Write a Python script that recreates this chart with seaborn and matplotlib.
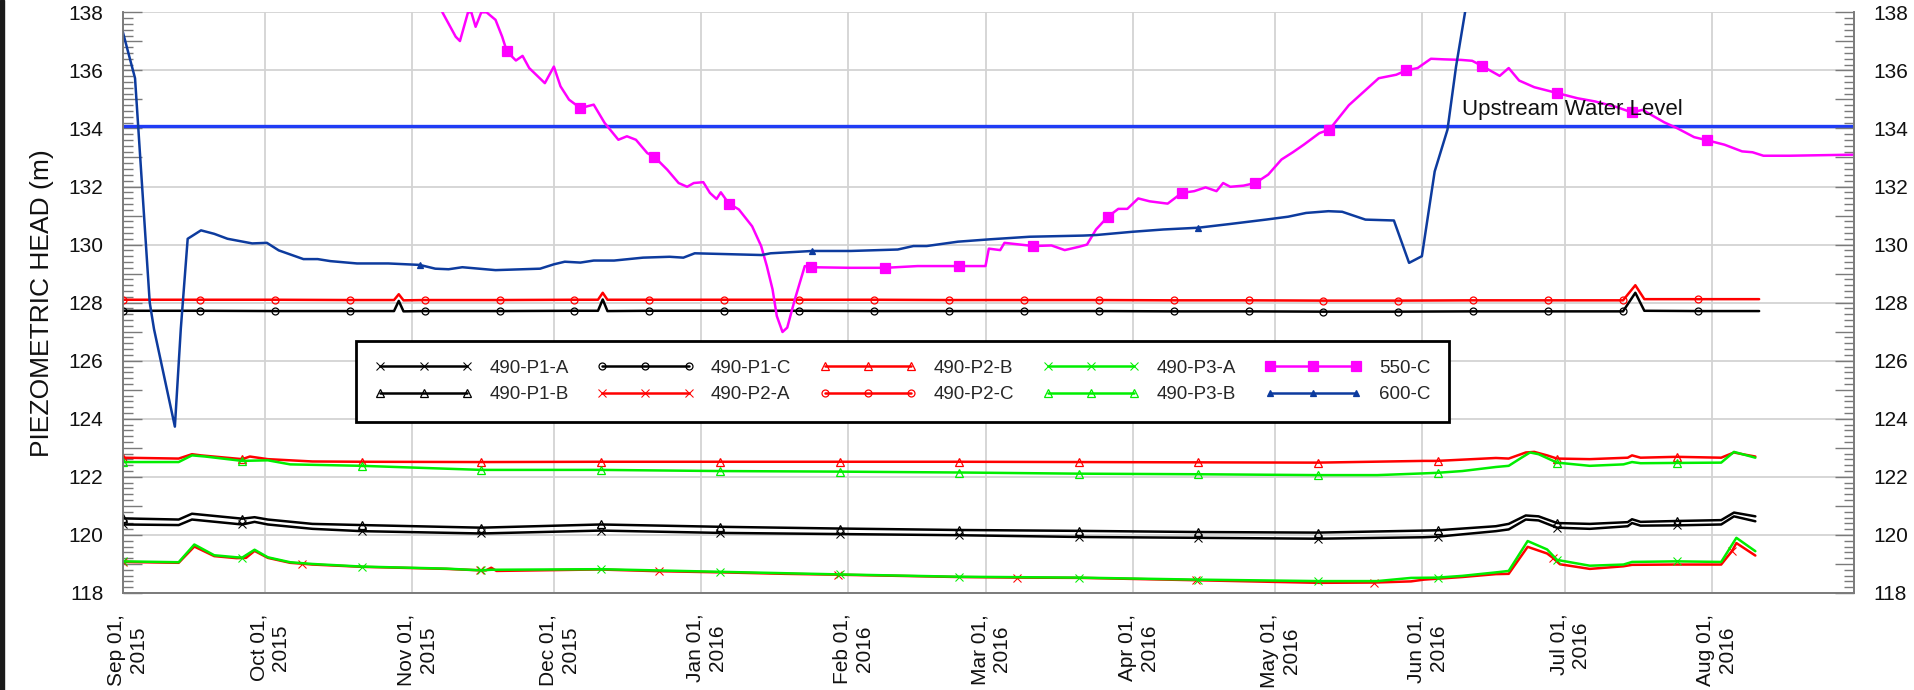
import numpy as np
import pandas as pd
import matplotlib
matplotlib.use('Agg')
import matplotlib.pyplot as plt
import matplotlib.dates as mdates
import matplotlib.ticker as mticker
import matplotlib.transforms as mtransforms
from matplotlib.lines import Line2D
from matplotlib.patches import Rectangle
import seaborn as sns

# ---- data (days after 2015-09-01, piezometric head in m) ----
start = pd.Timestamp('2015-09-01')
end = pd.Timestamp('2016-08-31')
upstream_level = 134.09

mark_o = [0, 16.3, 32.1, 47.9, 63.7, 79.5, 95.2, 111.0, 126.8, 142.6, 158.4, 174.2,
          190.0, 205.8, 221.6, 237.4, 253.1, 268.9, 284.7, 300.5, 316.3, 332.1]
mark_25 = [0, 25.2, 50.4, 75.6, 100.8, 126.0, 151.2, 176.4, 201.6, 226.8, 252.0,
           277.2, 302.4, 327.6]
mark_38 = [0, 37.7, 75.4, 113.1, 150.8, 188.5, 226.2, 263.9, 301.6, 339.3]

# 490-P1-A
p1a_day = [0, 11.8, 14.6, 25.2, 27.8, 30.6, 40.0, 50.4, 75.6, 100.8, 126.0, 151.2, 176.4,
           201.6, 226.8, 252.0, 274.3, 277.2, 289.5, 292.2, 295.8, 298.5, 302.4, 309.3,
           317.3, 318.2, 320.0, 327.6, 337.0, 339.7, 344.2]
p1a_head = [120.36, 120.34, 120.53, 120.36, 120.45, 120.36, 120.21, 120.13, 120.05, 120.15,
            120.07, 120.03, 119.99, 119.93, 119.90, 119.87, 119.92, 119.94, 120.13, 120.19,
            120.53, 120.50, 120.25, 120.21, 120.30, 120.41, 120.32, 120.33, 120.36, 120.64,
            120.47]
# 490-P1-B
p1b_day = p1a_day
p1b_head = [120.57, 120.53, 120.73, 120.56, 120.61, 120.53, 120.38, 120.34, 120.25, 120.36,
            120.28, 120.22, 120.17, 120.14, 120.10, 120.08, 120.15, 120.16, 120.30, 120.38,
            120.67, 120.64, 120.41, 120.38, 120.44, 120.54, 120.45, 120.48, 120.51, 120.77,
            120.64]
# 490-P1-C
p1c_day = [0, 16.3, 32.1, 47.9, 57.2, 58.2, 59.2, 63.7, 79.5, 95.2, 100.2, 101.2, 102.2,
           111.0, 126.8, 142.6, 158.4, 174.2, 190.0, 205.8, 221.6, 237.4, 253.1, 268.9,
           284.7, 300.5, 316.3, 318.9, 320.8, 332.1, 345.0]
p1c_head = [127.72, 127.72, 127.71, 127.71, 127.71, 128.06, 127.70, 127.71, 127.71, 127.72,
            127.72, 128.11, 127.71, 127.72, 127.72, 127.72, 127.71, 127.71, 127.71, 127.71,
            127.70, 127.70, 127.69, 127.69, 127.70, 127.70, 127.70, 128.34, 127.72, 127.71,
            127.71]
# 490-P2-A
p2a_day = [0, 11.8, 15.1, 19.3, 24.0, 26.0, 27.8, 30.6, 35.3, 37.7, 40.0, 50.6, 68.2, 75.4,
           76.6, 77.7, 78.8, 100.3, 113.1, 126.4, 139.6, 150.8, 176.3, 188.5, 202.2, 226.2,
           237.7, 252.2, 263.9, 271.6, 274.3, 282.4, 289.5, 292.2, 296.2, 300.3, 301.6,
           303.0, 309.3, 316.4, 318.2, 327.2, 337.0, 339.3, 340.2, 344.2]
p2a_head = [119.07, 119.04, 119.60, 119.27, 119.20, 119.21, 119.45, 119.21, 119.04, 119.01,
            118.98, 118.90, 118.83, 118.78, 118.78, 118.87, 118.76, 118.81, 118.75, 118.71,
            118.66, 118.63, 118.55, 118.53, 118.52, 118.44, 118.40, 118.35, 118.36, 118.40,
            118.46, 118.55, 118.65, 118.66, 119.59, 119.36, 119.20, 118.99, 118.83, 118.92,
            118.97, 118.98, 118.98, 119.45, 119.72, 119.29]
# 490-P2-B
p2b_day = [0, 11.8, 14.6, 16.5, 25.2, 26.8, 30.6, 40.0, 50.4, 75.6, 100.8, 126.0, 151.2,
           176.4, 201.6, 226.8, 252.0, 274.3, 277.2, 289.5, 292.2, 295.8, 297.6, 300.3,
           302.4, 309.3, 317.3, 318.2, 320.0, 327.6, 337.0, 339.7, 341.5, 344.2]
p2b_head = [122.66, 122.63, 122.78, 122.74, 122.61, 122.70, 122.61, 122.53, 122.52, 122.51,
            122.52, 122.52, 122.52, 122.52, 122.51, 122.50, 122.49, 122.55, 122.55, 122.65,
            122.63, 122.84, 122.86, 122.74, 122.63, 122.61, 122.66, 122.74, 122.66, 122.69,
            122.66, 122.84, 122.78, 122.70]
# 490-P2-C
p2c_day = p1c_day
p2c_head = [128.10, 128.10, 128.10, 128.09, 128.09, 128.29, 128.08, 128.09, 128.09, 128.10,
            128.10, 128.34, 128.10, 128.10, 128.10, 128.10, 128.10, 128.09, 128.09, 128.09,
            128.08, 128.08, 128.07, 128.07, 128.08, 128.08, 128.08, 128.60, 128.12, 128.12,
            128.12]
# 490-P3-A
p3a_day = [0, 11.8, 15.1, 19.3, 24.0, 25.2, 27.8, 30.6, 35.3, 40.0, 50.4, 68.2, 75.6, 77.7,
           100.8, 126.0, 151.2, 176.4, 201.6, 226.8, 252.0, 264.5, 271.6, 277.2, 282.4,
           289.5, 292.2, 296.2, 300.3, 302.4, 309.3, 316.4, 318.2, 327.6, 337.0, 340.2, 344.2]
p3a_head = [119.09, 119.06, 119.67, 119.30, 119.23, 119.22, 119.49, 119.23, 119.06, 119.00,
            118.91, 118.84, 118.78, 118.80, 118.82, 118.73, 118.64, 118.56, 118.53, 118.46,
            118.41, 118.41, 118.52, 118.53, 118.59, 118.71, 118.76, 119.79, 119.50, 119.14,
            118.94, 118.98, 119.07, 119.09, 119.07, 119.90, 119.44]
# 490-P3-B
p3b_day = [0, 11.8, 14.6, 17.4, 25.2, 30.6, 35.3, 50.4, 75.6, 100.8, 126.0, 151.2, 176.4,
           201.6, 226.8, 252.0, 264.5, 274.3, 277.2, 282.4, 289.5, 292.2, 294.9, 296.7,
           298.5, 302.4, 309.3, 316.4, 318.2, 320.0, 327.6, 337.0, 339.7, 344.2]
p3b_head = [122.51, 122.51, 122.74, 122.70, 122.55, 122.57, 122.43, 122.38, 122.24, 122.24,
            122.20, 122.18, 122.15, 122.11, 122.09, 122.06, 122.06, 122.12, 122.14, 122.20,
            122.34, 122.38, 122.66, 122.84, 122.78, 122.49, 122.38, 122.43, 122.51, 122.47,
            122.48, 122.49, 122.86, 122.66]
# 550-C
c550_day = [66.0, 67.4, 70.2, 71.1, 72.8, 73.5, 74.4, 75.6, 76.7, 78.6, 80.0, 81.0, 82.9,
            84.3, 85.7, 89.0, 90.9, 92.3, 94.1, 96.5, 99.3, 101.6, 104.5, 106.3, 108.2,
            110.6, 112.1, 114.8, 117.2, 119.0, 120.4, 122.4, 123.8, 125.2, 126.1, 127.8,
            129.9, 132.7, 134.6, 135.8, 137.0, 137.9, 139.1, 140.1, 141.7, 143.8, 145.2,
            153.4, 160.8, 167.6, 176.3, 181.9, 182.6, 185.0, 185.9, 189.2, 192.0, 195.8,
            198.6, 201.5, 203.3, 205.2, 207.7, 209.9, 211.8, 214.1, 216.5, 220.3, 223.3,
            225.9, 228.3, 230.6, 232.0, 233.5, 236.3, 238.8, 241.5, 244.3, 246.7, 249.0,
            252.3, 254.4, 258.5, 264.8, 268.5, 270.6, 273.0, 275.8, 278.5, 282.2, 284.5,
            286.5, 290.3, 292.2, 294.4, 297.6, 302.4, 306.7, 310.4, 314.9, 318.2, 320.4,
            325.0, 327.7, 331.3, 334.1, 337.7, 341.4, 343.6, 345.9, 351.4, 366.0]
c550_head = [138.90, 138.00, 137.16, 137.01, 138.00, 138.00, 137.50, 138.00, 138.00, 137.74,
             137.16, 136.65, 136.34, 136.50, 136.08, 135.56, 136.13, 135.45, 134.99, 134.70,
             134.82, 134.19, 133.61, 133.73, 133.61, 133.15, 133.02, 132.58, 132.12, 131.99,
             132.12, 132.15, 131.78, 131.57, 131.80, 131.41, 131.21, 130.63, 129.95, 129.26,
             128.46, 127.54, 126.99, 127.14, 128.11, 129.26, 129.22, 129.20, 129.20, 129.26,
             129.26, 129.26, 129.86, 129.81, 130.06, 130.00, 129.95, 129.97, 129.81, 129.92,
             130.00, 130.52, 130.96, 131.23, 131.23, 131.59, 131.49, 131.41, 131.78, 131.84,
             131.97, 131.84, 132.12, 131.99, 132.03, 132.12, 132.41, 132.93, 133.18, 133.44,
             133.84, 133.96, 134.80, 135.73, 135.85, 136.00, 136.08, 136.40, 136.38, 136.36,
             136.33, 136.16, 135.81, 136.08, 135.65, 135.42, 135.22, 135.04, 134.93, 134.74,
             134.55, 134.64, 134.21, 134.01, 133.70, 133.59, 133.44, 133.21, 133.18, 133.06,
             133.06, 133.10]
c550_marks = [81.0, 96.5, 112.1, 127.8, 145.2, 160.8, 176.3, 192.0, 207.7, 223.3, 238.8,
              254.4, 270.6, 286.5, 302.4, 318.2, 334.1]
# 600-C
c600_day = [0, 2.6, 5.7, 6.6, 11.0, 12.25, 13.7, 16.5, 19.3, 22.1, 27.3, 30.4, 32.9, 38.1,
            41.1, 43.8, 49.4, 56.0, 62.6, 65.9, 68.7, 71.6, 78.6, 88.0, 90.9, 93.2, 96.5,
            99.3, 103.6, 109.7, 115.3, 118.2, 120.6, 134.7, 136.6, 145.4, 153.5, 163.4,
            166.7, 169.5, 176.1, 182.7, 191.2, 202.5, 205.3, 212.8, 219.4, 226.7, 233.5,
            241.0, 245.7, 249.5, 254.2, 257.1, 262.0, 268.0, 271.2, 273.9, 276.6, 279.3,
            281.1, 283.0, 284.5]
c600_head = [137.34, 135.73, 128.00, 127.09, 123.73, 127.10, 130.20, 130.49, 130.37, 130.20,
             130.04, 130.06, 129.80, 129.50, 129.50, 129.43, 129.35, 129.35, 129.30, 129.17,
             129.15, 129.22, 129.12, 129.17, 129.32, 129.41, 129.38, 129.45, 129.45, 129.55,
             129.58, 129.55, 129.70, 129.64, 129.70, 129.78, 129.78, 129.83, 129.95, 129.95,
             130.10, 130.18, 130.27, 130.31, 130.33, 130.44, 130.52, 130.58, 130.71, 130.86,
             130.96, 131.09, 131.15, 131.13, 130.86, 130.83, 129.37, 129.60, 132.52, 133.96,
             136.13, 138.00, 139.50]
c600_marks = [62.6, 145.4, 226.7]

# label, days, heads, marker days, colour, marker, marker size, filled
series = [
    ('490-P1-A', p1a_day, p1a_head, mark_25, '#000000', 'x', 6, False),
    ('490-P1-B', p1b_day, p1b_head, mark_25, '#000000', '^', 5.5, False),
    ('490-P1-C', p1c_day, p1c_head, mark_o, '#000000', 'o', 5, False),
    ('490-P2-A', p2a_day, p2a_head, mark_38, '#ff0000', 'x', 6, False),
    ('490-P2-B', p2b_day, p2b_head, mark_25, '#ff0000', '^', 5.5, False),
    ('490-P2-C', p2c_day, p2c_head, mark_o, '#ff0000', 'o', 5, False),
    ('490-P3-A', p3a_day, p3a_head, mark_25, '#00ee00', 'x', 6, False),
    ('490-P3-B', p3b_day, p3b_head, mark_25, '#00ee00', '^', 5.5, False),
    ('550-C', c550_day, c550_head, c550_marks, '#ff00ff', 's', 6.5, True),
    ('600-C', c600_day, c600_head, c600_marks, '#0d3b9e', '^', 4.5, True),
]

sns.set_theme(style='white')
plt.rcParams['font.family'] = ['Liberation Sans', 'DejaVu Sans']

W, H = 1915, 690
fig = plt.figure(figsize=(W / 100, H / 100), dpi=100)
x0, x1, y0, y1 = 122.7, 1854, 12.3, 593
ax = fig.add_axes([x0 / W, 1 - y1 / H, (x1 - x0) / W, (y1 - y0) / H])
ax.set_facecolor('white')

grid_c = '#d3d3d3'
spine_c = '#7a7a7a'

for val in range(118, 139, 2):
    ax.axhline(val, color=grid_c, lw=1.3, zorder=0)
ax.axhline(upstream_level, color='#1f3cf5', lw=2.4, zorder=1)

handles = []
for label, days, heads, marks, col, mk, ms, filled in series:
    days = np.asarray(days, dtype=float)
    dates = start + pd.to_timedelta(days, unit='D')
    idx = [int(i) for i in np.flatnonzero(np.isin(days, marks))]
    mfc = col if filled else 'none'
    mew = 0.75 if mk == 'x' else 0.9
    sns.lineplot(x=dates, y=heads, ax=ax, color=col, linewidth=1.8, marker=mk,
                 markevery=idx, markersize=ms, markerfacecolor=mfc,
                 markeredgecolor=col, markeredgewidth=mew, estimator=None,
                 sort=False, legend=False, zorder=3)
    handles.append(Line2D([0], [0], color=col, lw=1.8, marker=mk, markersize=ms,
                          markerfacecolor=mfc, markeredgecolor=col,
                          markeredgewidth=mew))

ax.text(start + pd.Timedelta(days=282.4), 134.45, 'Upstream Water Level',
        fontsize=16, color='#111111', ha='left', va='baseline', zorder=4)

# axes ranges / ticks
ax.set_xlim(start, end)
ax.set_ylim(118, 138)

months = pd.date_range(start, end, freq='MS')
minor_dates = []
for m in months:
    ndays = m.days_in_month
    for k in (1, 2, 3):
        minor_dates.append(m + pd.Timedelta(days=ndays * k / 4))
ax.xaxis.set_major_locator(mdates.MonthLocator())
ax.xaxis.set_major_formatter(mdates.DateFormatter('%b %d,\n%Y'))
ax.xaxis.set_minor_locator(mticker.FixedLocator(mdates.date2num(minor_dates)))
ax.xaxis.grid(True, which='major', color=grid_c, lw=1.3)
ax.set_axisbelow(True)

ax.yaxis.set_major_locator(mticker.MultipleLocator(1))
ax.yaxis.set_minor_locator(mticker.MultipleLocator(0.2))
ax.yaxis.set_major_formatter(mticker.FuncFormatter(
    lambda v, p: f'{v:.0f}' if round(v) % 2 == 0 else ''))

ax.tick_params(axis='x', which='both', direction='in', length=6.5, width=1,
               color=spine_c, labelsize=15, pad=15, labelcolor='#111111')
ax.tick_params(axis='x', which='major', labelrotation=90)
ax.tick_params(axis='y', which='major', direction='in', length=13.5, width=1,
               color=spine_c, labelsize=15, pad=14, labelcolor='#111111')
ax.tick_params(axis='y', which='minor', direction='in', length=7, width=1, color=spine_c)

offset = mtransforms.ScaledTranslation(5 / 100, 0, fig.dpi_scale_trans)
for lab in ax.get_xticklabels():
    lab.set_transform(lab.get_transform() + offset)

ax2 = ax.twinx()
ax2.set_ylim(118, 138)
ax2.yaxis.set_major_locator(mticker.MultipleLocator(1))
ax2.yaxis.set_minor_locator(mticker.MultipleLocator(0.2))
ax2.yaxis.set_major_formatter(mticker.FuncFormatter(
    lambda v, p: f'{v:.0f}' if round(v) % 2 == 0 else ''))
ax2.tick_params(axis='y', which='major', direction='in', length=13.5, width=1,
                color=spine_c, labelsize=15, pad=14, labelcolor='#111111')
ax2.tick_params(axis='y', which='minor', direction='in', length=7, width=1, color=spine_c)

for a in (ax, ax2):
    a.spines['top'].set_visible(False)
    for s in ('left', 'right', 'bottom'):
        a.spines[s].set_color(spine_c)
        a.spines[s].set_linewidth(1.2)

ax.set_xlabel('')
ax.set_ylabel('PIEZOMETRIC HEAD (m)', fontsize=19, color='#111111')
ax.yaxis.set_label_coords(-0.0397, 0.5)

leg = ax.legend(handles, [s[0] for s in series], ncol=5, loc='upper left',
                bbox_to_anchor=(0.1348, 0.434), borderaxespad=0, numpoints=3,
                handlelength=5.2, handletextpad=0.9, columnspacing=1.5,
                borderpad=1.0, labelspacing=0.5, fontsize=13.5, frameon=True,
                fancybox=False, edgecolor='black', framealpha=1)
leg.get_frame().set_linewidth(2.0)
leg.set_zorder(5)

# dark strip along the left edge of the original screenshot
fig.patches.append(Rectangle((0, 0), 4 / W, 1, transform=fig.transFigure,
                             color='#1a1a1a', zorder=10))

fig.savefig('out.png', dpi=100)
